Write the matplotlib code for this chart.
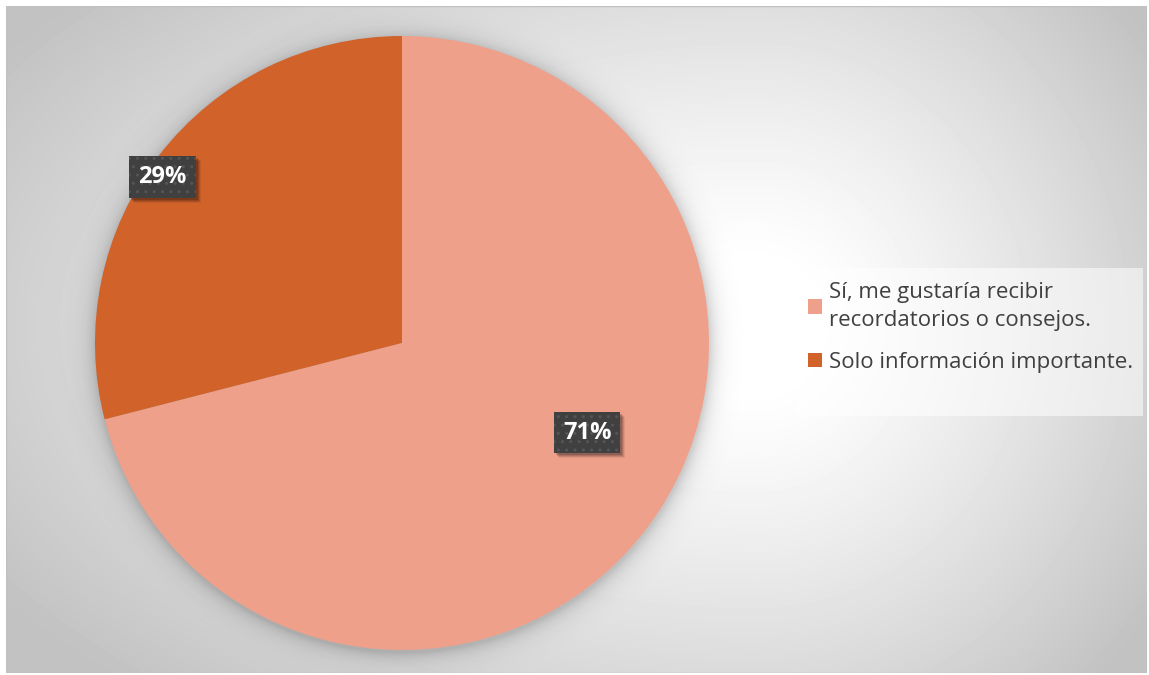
import numpy as np
import matplotlib.pyplot as plt
from matplotlib.patches import Rectangle

# survey answers
labels = ["Sí, me gustaría recibir\nrecordatorios o consejos.",
          "Solo información importante."]
values = [71, 29]
colors = ["#EEA08A", "#D0622A"]

W, H = 1149, 675
fig = plt.figure(figsize=(W / 100, H / 100), dpi=100)
fig.patch.set_facecolor("white")

# -----------------------------
# background panel with a soft radial gradient
# -----------------------------
bg = fig.add_axes([6 / W, 2 / H, 1141 / W, 667 / H])
bg.set_axis_off()
yy, xx = np.mgrid[0:667, 0:1141]
cx, cy = 750, 320
sx = np.where(xx < cx, 900, 480)
d = np.sqrt(((xx - cx) / sx) ** 2 + ((yy - cy) / 500) ** 2)
shade = 1 - 0.24 * np.clip((d - 0.12) / 0.88, 0, 1) ** 1.2
bg.imshow(shade, cmap="gray", vmin=0, vmax=1, aspect="auto",
          extent=[0, 1141, 667, 0], interpolation="bilinear")
bg.add_patch(Rectangle((0, 0), 1141, 667, fill=False, ec="#c0c0c0", lw=1))
bg.set_xlim(0, 1141)
bg.set_ylim(667, 0)

# soft shadow around the pie
pcx, pcy, R = 402 - 6, 343 - 6, 307
r = np.sqrt((xx - pcx) ** 2 + (yy - pcy - 2) ** 2)
glow = np.clip(np.exp(-np.clip(r - R, 0, None) / 9.0), 0, 1) * 0.18
rgba = np.zeros((667, 1141, 4))
rgba[..., 3] = glow
bg.imshow(rgba, aspect="auto", extent=[0, 1141, 667, 0])

# -----------------------------
# pie
# -----------------------------
ax = fig.add_axes([95 / W, (H - 650) / H, 614 / W, 614 / H])
wedges, _ = ax.pie(values, colors=colors, startangle=90, counterclock=False,
                   radius=1.0, wedgeprops=dict(linewidth=0))
ax.set_xlim(-1, 1)
ax.set_ylim(-1, 1)
ax.set_aspect("equal")
ax.set_axis_off()

# data labels, placed along each wedge
label_r = [0.67, 0.95]
label_shift = [12, 3]
pct_texts = []
for w, v, lr, sh in zip(wedges, values, label_r, label_shift):
    ang = np.deg2rad((w.theta1 + w.theta2) / 2 + sh)
    t = ax.text(lr * np.cos(ang), lr * np.sin(ang), f"{v}%",
                ha="center", va="center", fontsize=17, fontweight="bold",
                family="Open Sans", color="white", zorder=5,
                bbox=dict(boxstyle="square,pad=0.38", fc="#404040",
                          ec="#555555", lw=0, hatch=".."))
    pct_texts.append(t)

# blurred drop shadow under each label box (display coords)
fig.canvas.draw()
for t in pct_texts:
    bb = t.get_bbox_patch().get_window_extent()
    for k, a in [(5, 0.07), (4, 0.10), (3, 0.13), (2, 0.16)]:
        ax.add_artist(Rectangle((bb.x0 + k, bb.y0 - k), bb.width, bb.height,
                                transform=None, fc="black", alpha=a,
                                lw=0, zorder=3))

# -----------------------------
# legend
# -----------------------------
fig.patches.append(Rectangle((797 / W, 1 - 416 / H), 346 / W, 148 / H,
                             transform=fig.transFigure, fc="white",
                             alpha=0.55, ec="none", zorder=2))
leg = fig.legend(wedges, labels, loc="upper left",
                 bbox_to_anchor=(797 / W, 1 - 271 / H), borderpad=0,
                 frameon=False, handlelength=0.62,
                 handleheight=0.62, handletextpad=0.3, labelspacing=0.95,
                 prop=dict(family="Open Sans", size=16))
for txt in leg.get_texts():
    txt.set_color("#404040")
    txt.set_linespacing(1.4)

fig.savefig("out.png", dpi=100, facecolor="white")
